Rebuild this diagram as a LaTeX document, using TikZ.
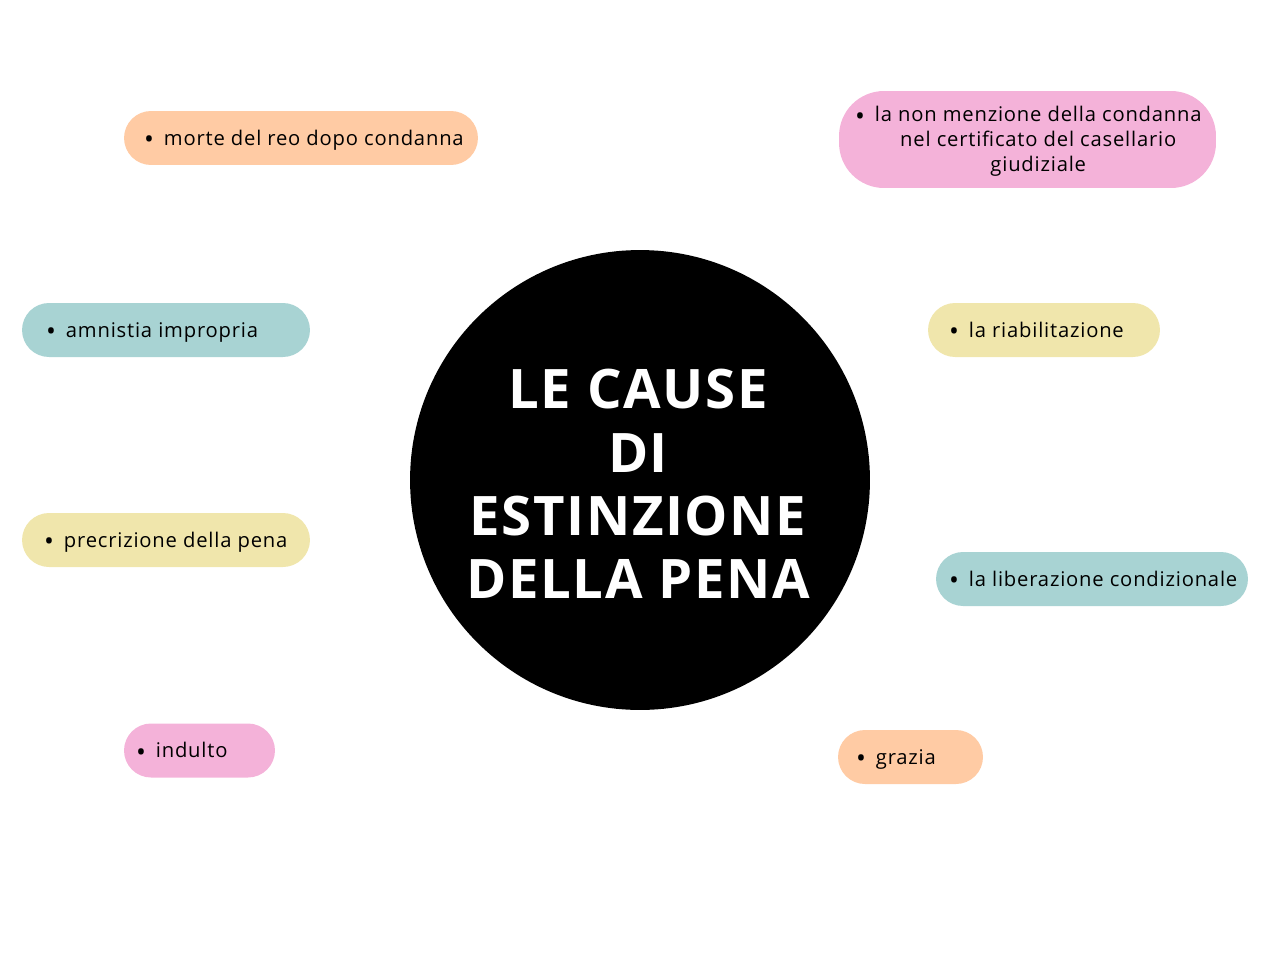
\documentclass[tikz,border=0pt]{standalone}
\usepackage{fontspec}
\setmainfont{Open Sans}
\newfontfamily\headfont[LetterSpace=3]{Open Sans}
\newfontfamily\pillfont[LetterSpace=4]{Open Sans}
\usepackage{xcolor}
\usetikzlibrary{positioning}
\definecolor{peach}{HTML}{FFCBA4}
\definecolor{rosa}{HTML}{F4B2D9}
\definecolor{teal}{HTML}{A8D3D3}
\definecolor{giallo}{HTML}{F0E6AC}
\newcommand{\puntino}{\raisebox{-2pt}{\fontsize{15}{15}\selectfont\textbullet}\hspace{0.2cm}}
\begin{document}
\begin{tikzpicture}[x=0.02cm,y=0.02cm,
    pill/.style={fill=#1,minimum height=1.08cm,rounded corners=0.54cm,
        inner ysep=0pt,text height=9.4pt,text depth=1pt,
        font=\pillfont\fontsize{11.5}{14.2}\selectfont},
    center/.style={circle,fill=black,minimum size=9.2cm,inner sep=0pt},
    title/.style={text=white,align=center,font=\headfont\bfseries\fontsize{31}{36}\selectfont}]
    \useasboundingbox (0,0) rectangle (1280,-960);
    \node [center] (cause) at (640,-480) {};
    \node [title] (titolo) at (638,-484) {LE CAUSE\\DI\\ESTINZIONE\\DELLA PENA};
    % voci a sinistra
    \node [pill=peach,minimum width=7.08cm,inner xsep=0.4cm] (morte) at (301,-138)
        {\makebox[6.28cm][l]{\puntino morte del reo dopo condanna}};
    \node [pill=teal,minimum width=5.76cm,inner xsep=0.48cm] (amnistia) at (166,-330)
        {\makebox[4.8cm][l]{\puntino amnistia impropria}};
    \node [pill=giallo,minimum width=5.76cm,inner xsep=0.44cm] (prescrizione) at (166,-540)
        {\makebox[4.88cm][l]{\puntino precrizione della pena}};
    \node [pill=rosa,minimum width=3.02cm,inner xsep=0.24cm] (indulto) at (199.5,-750.5)
        {\makebox[2.54cm][l]{\puntino indulto}};
    % voci a destra
    \node [pill=rosa,minimum width=7.54cm,minimum height=1.94cm,rounded corners=0.9cm,inner xsep=0.32cm,
        text height=10.5pt,text depth=30.5pt] (menzione) at (1027.5,-139.5)
        {\makebox[6.9cm][l]{\puntino\begin{tabular}[t]{@{}c@{}}la non menzione della condanna\\
            nel certificato del casellario\\ giudiziale\end{tabular}}};
    \node [pill=giallo,minimum width=4.64cm,inner xsep=0.42cm] (riabilitazione) at (1044,-330)
        {\makebox[3.8cm][l]{\puntino la riabilitazione}};
    \node [pill=teal,minimum width=6.24cm,inner xsep=0.26cm] (liberazione) at (1092,-579)
        {\makebox[5.72cm][l]{\puntino la liberazione condizionale}};
    \node [pill=peach,minimum width=2.9cm,inner xsep=0.36cm] (grazia) at (910.5,-757)
        {\makebox[2.18cm][l]{\puntino grazia}};
\end{tikzpicture}
\end{document}
